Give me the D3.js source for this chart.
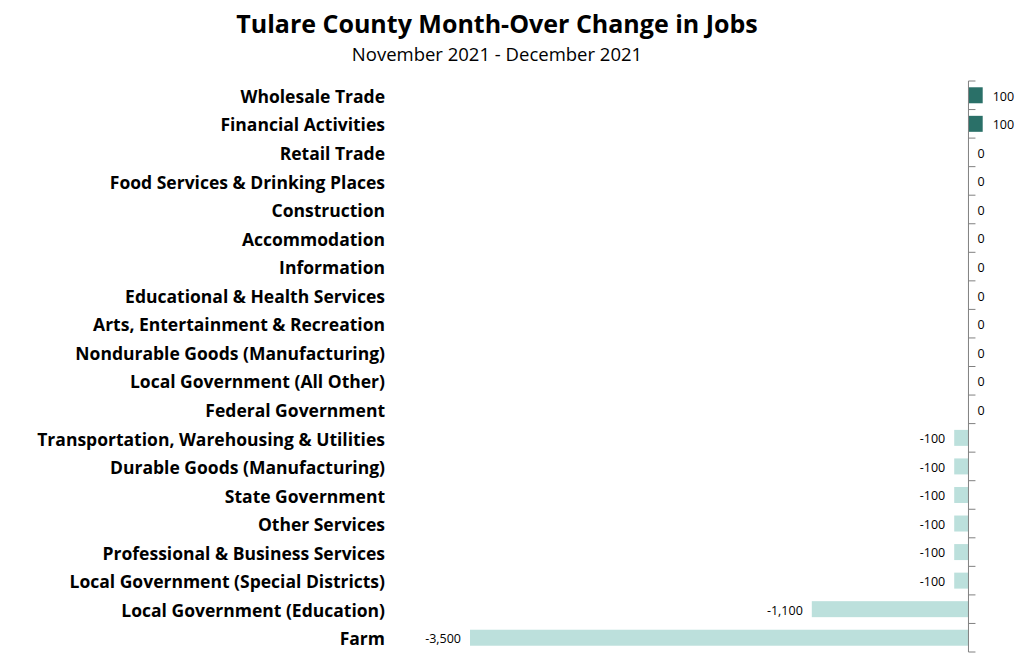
<!DOCTYPE html>
<html lang="en">

<head>
  <meta charset="UTF-8">
  <script src="https://d3js.org/d3.v7.min.js"></script>
  <style>
    html, body {
      margin: 0px;
      padding: 0px;
      background-color: white;
    }

    svg text {
      font-family: "Open Sans", Lato, sans-serif;
    }

    .cat-label {
      font-weight: bold;
      font-size: 17.5px;
      fill: #000;
    }

    .val-label {
      font-size: 12.5px;
      fill: #000;
    }

    .axis path,
    .axis line {
      stroke: #808080;
    }
  </style>
</head>

<body>
  <svg id="chart" width="1033" height="664"></svg>

  <script>
    // data: month-over change in jobs, Nov 2021 - Dec 2021
    const categories = [
      "Wholesale Trade",
      "Financial Activities",
      "Retail Trade",
      "Food Services & Drinking Places",
      "Construction",
      "Accommodation",
      "Information",
      "Educational & Health Services",
      "Arts, Entertainment & Recreation",
      "Nondurable Goods (Manufacturing)",
      "Local Government (All Other)",
      "Federal Government",
      "Transportation, Warehousing & Utilities",
      "Durable Goods (Manufacturing)",
      "State Government",
      "Other Services",
      "Professional & Business Services",
      "Local Government (Special Districts)",
      "Local Government (Education)",
      "Farm"
    ];
    const changes = [100, 100, 0, 0, 0, 0, 0, 0, 0, 0, 0, 0,
      -100, -100, -100, -100, -100, -100, -1100, -3500];

    const titleText = "Tulare County Month-Over Change in Jobs";
    const subtitleText = "November 2021 - December 2021";

    const rows = categories.map((c, i) => ({ name: c, value: changes[i] }));

    const svg = d3.select("#chart");
    const margin = { top: 81, bottom: 12 };
    const height = +svg.attr("height");

    // scales
    const xScale = d3.scaleLinear().domain([-3500, 100]).range([470, 982.7]);
    const yScale = d3.scaleBand()
      .domain(categories)
      .range([margin.top, height - margin.bottom])
      .paddingInner(0.44)
      .paddingOuter(0.22);

    // plain hyphen for negatives, like the original
    const fmt = d3.formatLocale({ decimal: ".", thousands: ",", grouping: [3], currency: ["$", ""], minus: "-" }).format(",");

    // title
    svg.append("text")
      .attr("x", 497).attr("y", 33)
      .attr("text-anchor", "middle")
      .style("font-size", "25px").style("font-weight", "bold")
      .text(titleText);
    svg.append("text")
      .attr("x", 497).attr("y", 61)
      .attr("text-anchor", "middle")
      .style("font-size", "18.5px")
      .text(subtitleText);

    // bars
    svg.append("g").selectAll("rect")
      .data(rows)
      .join("rect")
      .attr("x", d => xScale(Math.min(0, d.value)))
      .attr("y", d => yScale(d.name))
      .attr("width", d => Math.abs(xScale(d.value) - xScale(0)))
      .attr("height", yScale.bandwidth())
      .attr("fill", d => d.value > 0 ? "#2a7068" : "#bce0dc");

    // axis on zero line, ticks between bands pointing right
    const axisG = svg.append("g").attr("class", "axis");
    const [y0, y1] = yScale.range();
    const bounds = d3.range(categories.length + 1).map(i => y0 + i * (y1 - y0) / categories.length);
    axisG.append("line")
      .attr("x1", xScale(0)).attr("x2", xScale(0))
      .attr("y1", y0).attr("y2", y1);
    axisG.selectAll("line.tick")
      .data(bounds)
      .join("line")
      .attr("class", "tick")
      .attr("x1", xScale(0)).attr("x2", xScale(0) + 7)
      .attr("y1", d => d).attr("y2", d => d);

    // category labels
    svg.append("g").selectAll("text")
      .data(rows)
      .join("text")
      .attr("class", "cat-label")
      .attr("x", 385)
      .attr("y", d => yScale(d.name) + yScale.bandwidth() / 2 + 1.5)
      .attr("dy", "0.35em")
      .attr("text-anchor", "end")
      .text(d => d.name);

    // value labels
    svg.append("g").selectAll("text")
      .data(rows)
      .join("text")
      .attr("class", "val-label")
      .attr("x", d => d.value < 0 ? xScale(d.value) - 9 : (d.value > 0 ? xScale(d.value) + 10 : xScale(0) + 9))
      .attr("y", d => yScale(d.name) + yScale.bandwidth() / 2 + 1)
      .attr("dy", "0.35em")
      .attr("text-anchor", d => d.value < 0 ? "end" : "start")
      .text(d => fmt(d.value));
  </script>
</body>

</html>
